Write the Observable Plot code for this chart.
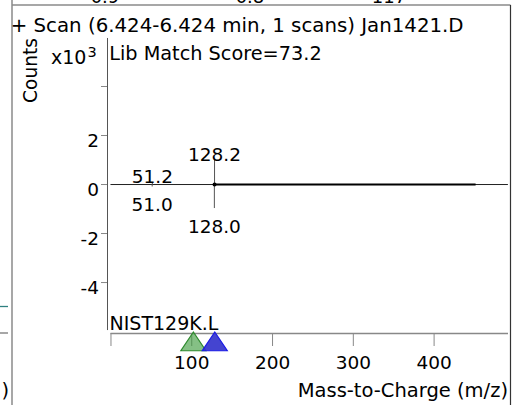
<!DOCTYPE html>
<html><head><meta charset="utf-8">
<script src="https://cdn.jsdelivr.net/npm/d3@7"></script>
<script src="https://cdn.jsdelivr.net/npm/@observablehq/plot@0.6"></script>
<style>
body{margin:0;background:#fff}
#wrap{position:relative;width:522px;height:405px;overflow:hidden;font-family:"DejaVu Sans",sans-serif;background:#fff}
#wrap svg{position:absolute;left:0;top:0}
</style></head><body><div id="wrap"></div>
<script>
// ---- data (counts in x10^3) ----
const xTicks = [0, 100, 200, 300, 400];
const yTicks = [-4, -2, 0, 2, 4];
const upperMz = [51.2, 128.2];
const upperCounts = [0.08, 0.98];
const lowerMz = [51.0, 128.0];
const lowerCounts = [-0.1, -0.98];
const markerMz = [102, 128.5];
const markerFill = ["#3a9a3a", "#3434cc"];
const markerStroke = ["#2e8b2e", "#1a1ae6"];
const markerOpacity = [0.62, 0.92];
const baselineSpan = [0, 492];
const noiseSpan = [128.2, 452];
const xDomain = [-4.3, 492.1];
const yDomain = [-6.08, 6];
const yAxisSpan = [-5.96, 5.96];
const titleText = "+ Scan (6.424-6.424 min, 1 scans) Jan1421.D";
const scoreText = "Lib Match Score=73.2";
const libText = "NIST129K.L";
const xLabelText = "Mass-to-Charge (m/z)";
const yLabelText = "Counts";
const topCutTexts = ["0.9", "0.8", "117"];

const upper = upperMz.map((mz, i) => ({mz, v: upperCounts[i]}));
const lower = lowerMz.map((mz, i) => ({mz, v: lowerCounts[i]}));
const markers = markerMz.map((mz, i) => ({mz, fill: markerFill[i], stroke: markerStroke[i], op: markerOpacity[i]}));

const tri = {draw(ctx, size) {
  const r = Math.sqrt(size / Math.PI);
  ctx.moveTo(0, 0); ctx.lineTo(r, 1.5 * r); ctx.lineTo(-r, 1.5 * r); ctx.closePath();
}};

const chart = Plot.plot({
  width: 522, height: 405,
  marginLeft: 107, marginRight: 14, marginTop: 37, marginBottom: 72,
  x: {domain: xDomain, axis: null, label: null},
  y: {domain: yDomain, axis: null, label: null},
  style: {fontFamily: "DejaVu Sans", fontSize: "18px", background: "transparent", color: "black"},
  marks: [
    Plot.ruleX([xDomain[0]], {y1: yAxisSpan[0], y2: yAxisSpan[1], stroke: "#555", strokeWidth: 1}),
    Plot.ruleY([yDomain[0]], {x1: 0, x2: xDomain[1], stroke: "#888", strokeWidth: 1.5}),
    Plot.axisY({ticks: yTicks, tickSize: 6, tickFormat: () => "", stroke: "#888", label: null}),
    Plot.axisY({ticks: yTicks, tickSize: 0, tickPadding: 8.5, dy: 6, fontSize: 18.5, label: null,
      tickFormat: d => d === 4 ? "" : String(d)}),
    Plot.axisX({ticks: xTicks, tickSize: 13, tickFormat: () => "", stroke: "#888", label: null}),
    Plot.axisX({ticks: xTicks, tickSize: 0, tickPadding: 22, fontSize: 18.5, label: null,
      tickFormat: d => d === 0 ? "" : String(d)}),
    Plot.ruleY([0], {x1: baselineSpan[0], x2: baselineSpan[1], stroke: "#222", strokeWidth: 1}),
    Plot.ruleY([0], {x1: noiseSpan[0], x2: noiseSpan[1], stroke: "black", strokeWidth: 2.2}),
    Plot.ruleX(upper, {x: "mz", y1: 0, y2: "v", stroke: "#555", strokeWidth: 1}),
    Plot.ruleX(lower, {x: "mz", y1: 0, y2: "v", stroke: "#555", strokeWidth: 1}),
    Plot.dot(upper.filter(d => d.v === d3.max(upperCounts)), {x: "mz", y: 0, r: 2, fill: "black"}),
    Plot.text(upper, {x: "mz", y: "v", text: d => d.mz.toFixed(1), lineAnchor: "bottom", fontSize: 18.5}),
    Plot.text(lower, {x: "mz", y: "v", text: d => d.mz.toFixed(1), lineAnchor: "top", dy: 11, fontSize: 18.5}),
    ...markers.map(m => Plot.dot([m], {x: "mz", frameAnchor: "bottom", dy: -1.5, symbol: tri, r: 12.5,
      fill: m.fill, fillOpacity: m.op, stroke: m.stroke, strokeWidth: 1.2}))
  ]
});
document.getElementById("wrap").appendChild(chart);

// ---- overlay: panel frame and text labels ----
const ov = d3.select("#wrap").append("svg").attr("width", 522).attr("height", 405)
  .style("font-family", "DejaVu Sans").style("overflow", "hidden");
const line = (x1, y1, x2, y2, c, w) => ov.append("line").attr("x1", x1).attr("y1", y1).attr("x2", x2).attr("y2", y2)
  .attr("stroke", c).attr("stroke-width", w);
line(12, 0, 12, 405, "#8a8a8a", 1.5);
line(12, 5, 510.5, 5, "#8a8a8a", 1.5);
line(510.5, 5, 510.5, 405, "#333", 1.2);
line(0, 306.5, 8, 306.5, "#2f8080", 1.3);
line(0, 333, 8, 333, "#8a8a8a", 1.5);
const txt = (s, x, y, size, anchor = "start") => ov.append("text").attr("x", x).attr("y", y)
  .attr("font-size", size).attr("text-anchor", anchor).attr("fill", "black").text(s);
txt(topCutTexts[0], 105, 2.5, 18, "middle");
txt(topCutTexts[1], 250, 2.5, 18, "middle");
txt(topCutTexts[2], 389, 2.5, 18, "middle");
txt(titleText, 10.7, 31.5, 19.8);
txt(scoreText, 109.2, 60, 19.3);
txt("x10", 51, 64.3, 19);
txt("3", 87.5, 56.7, 14.5);
ov.append("text").attr("transform", "translate(36.5,70.5) rotate(-90)").attr("font-size", 18.6)
  .attr("text-anchor", "middle").attr("fill", "black").text(yLabelText);
txt(libText, 109.5, 330, 19);
txt(xLabelText, 508, 396.5, 19.5, "end");
txt(")", 9, 396.5, 19.5, "end");
</script></body></html>
